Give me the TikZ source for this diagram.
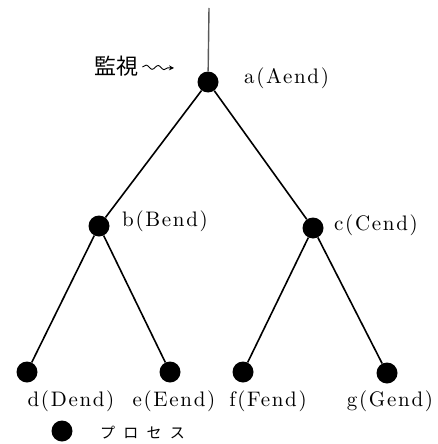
\documentclass[tikz,border=0pt]{standalone}
\usepackage{fontspec}
\newfontfamily\lab{lmroman10-regular}[Extension=.otf, LetterSpace=8]
\newfontfamily\cjk{Noto Sans CJK JP}
\newfontfamily\cjksp{Noto Sans CJK JP}[LetterSpace=55]
\usetikzlibrary{decorations.pathmorphing,arrows.meta}
\begin{document}
\begin{tikzpicture}[x=1pt,y=-1pt,
  proc/.style={circle,fill=black,inner sep=0pt,minimum size=21pt},
  edge/.style={line width=1.6pt},
  lbl/.style={font=\fontsize{21}{21}\selectfont\lab,inner sep=0pt}]
\useasboundingbox (0,0) rectangle (438,444);
\node[proc] (a) at (208,82) {};
\node[proc] (b) at (99,226) {};
\node[proc] (c) at (313,228) {};
\node[proc] (d) at (27,372) {};
\node[proc] (e) at (170,372) {};
\node[proc] (f) at (243,372) {};
\node[proc] (g) at (387,373) {};
\coordinate (top) at (209,8);
\draw[line width=1.4pt,black!65] (top) -- (a);
\draw[edge] (a) -- (b);
\draw[edge] (a) -- (c);
\draw[edge] (b) -- (d);
\draw[edge] (b) -- (e);
\draw[edge] (c) -- (f);
\draw[edge] (c) -- (g);
\node[lbl,anchor=west] (la) at (244,78) {a(Aend)};
\node[lbl,anchor=west] (lb) at (122,221) {b(Bend)};
\node[lbl,anchor=west] (lc) at (334,225) {c(Cend)};
\node[lbl] (ld) at (71,401) {d(Dend)};
\node[lbl] (le) at (174,401) {e(Eend)};
\node[lbl] (lf) at (268,401) {f(Fend)};
\node[lbl] (lg) at (390,401) {g(Gend)};
\node[font=\fontsize{22}{22}\selectfont\cjk,inner sep=0pt,anchor=west] (kan) at (94,66) {監視};
\coordinate (sq) at (174,68);
\draw[line width=0.9pt,-{Stealth[length=5pt,width=5pt]},decorate,decoration={snake,amplitude=2pt,segment length=12pt,post length=5pt}] (kan.east)+(4,1) -- (sq);
\node[proc] (leg) at (62,431) {};
\node[font=\fontsize{15}{15}\selectfont\cjksp,inner sep=0pt,anchor=west] (legt) at (100,433) {プロセス};
\end{tikzpicture}
\end{document}
